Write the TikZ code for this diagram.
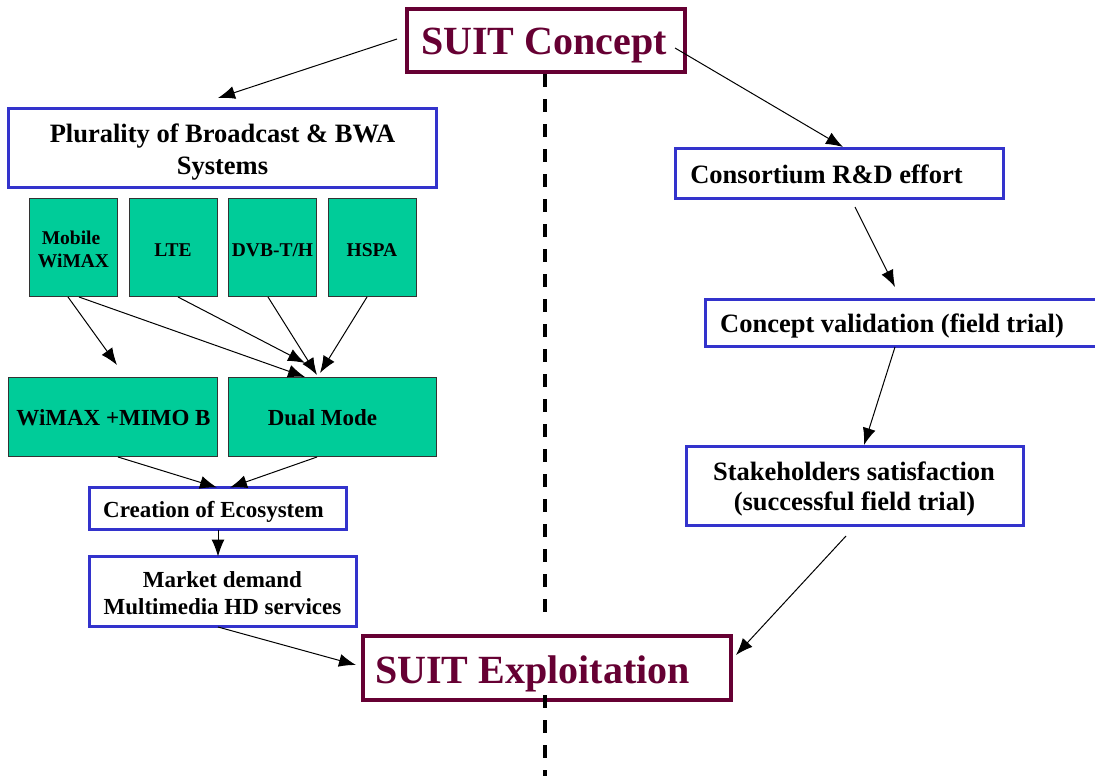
\documentclass[tikz,border=0pt]{standalone}
\usepackage{fontspec}
\setmainfont{Liberation Serif}
\usetikzlibrary{arrows.meta,calc}
\definecolor{maroon}{HTML}{660033}
\definecolor{boxblue}{HTML}{3333CC}
\definecolor{sysgreen}{HTML}{00CC99}
\definecolor{edgegray}{HTML}{333333}
\tikzset{
  mainbox/.style={draw=maroon,line width=4pt,fill=white,inner sep=0pt,outer sep=0pt},
  bluebox/.style={draw=boxblue,line width=3pt,fill=white,inner sep=0pt,outer sep=0pt},
  greenbox/.style={draw=edgegray,line width=1pt,fill=sysgreen,inner sep=0pt,outer sep=0pt},
  txt/.style={inner sep=0pt,outer sep=0pt,anchor=base,font=\bfseries},
  arr/.style={line width=1pt,-{Latex[length=17pt,width=13pt]}},
  divider/.style={line width=4pt,dash pattern=on 13pt off 12pt},
}
\newcommand{\fsz}[2]{\fontsize{#1}{#2}\selectfont}
\begin{document}
\begin{tikzpicture}[x=1pt,y=-1pt]
\useasboundingbox (0,0) rectangle (1095,776);
\clip (0,0) rectangle (1095,776);
\fill[white] (0,0) rectangle (1095,776);

% dashed divider
\coordinate (dtop) at (545,74);
\coordinate (dmid) at (545,612);
\coordinate (dlow) at (545,695);
\coordinate (dend) at (545,776);
\draw[divider] (dtop) -- (dmid);

% main boxes
\node[mainbox,minimum width=278pt,minimum height=63pt] (concept) at (546,40.5) {};
\node[txt,text=maroon,font=\bfseries\fsz{40}{46}] (conceptT) at (544,55) {SUIT Concept};

\node[mainbox,minimum width=368pt,minimum height=64pt] (exploit) at (547,668) {};
\node[txt,text=maroon,font=\bfseries\fsz{40}{46}] (exploitT) at (532.5,683) {SUIT Exploitation};
\draw[divider] (dlow) -- (dend);

% left column
\node[bluebox,minimum width=428pt,minimum height=79pt] (plural) at (222.5,148) {};
\node[txt,font=\bfseries\fsz{26.5}{32}] (pluralA) at (222.5,142) {Plurality of Broadcast \& BWA};
\node[txt,font=\bfseries\fsz{26.5}{32}] (pluralB) at (222.5,174) {Systems};

\node[greenbox,minimum width=88pt,minimum height=98pt] (mobile) at (73.5,247.5) {};
\node[greenbox,minimum width=88pt,minimum height=98pt] (lte) at (173,247.5) {};
\node[greenbox,minimum width=88pt,minimum height=98pt] (dvb) at (272.5,247.5) {};
\node[greenbox,minimum width=88pt,minimum height=98pt] (hspa) at (372,247.5) {};
\node[txt,font=\bfseries\fsz{19.5}{23}] (mobileA) at (71,244) {Mobile};
\node[txt,font=\bfseries\fsz{19.5}{23}] (mobileB) at (73.5,267) {WiMAX};
\node[txt,font=\bfseries\fsz{19.5}{23}] (lteT) at (173,256) {LTE};
\node[txt,font=\bfseries\fsz{19.5}{23}] (dvbT) at (272.5,256) {DVB-T/H};
\node[txt,font=\bfseries\fsz{19.5}{23}] (hspaT) at (372,256) {HSPA};

\node[greenbox,minimum width=209pt,minimum height=79pt] (mimo) at (113,417) {};
\node[greenbox,minimum width=208pt,minimum height=79pt] (dual) at (332.5,417) {};
\node[txt,font=\bfseries\fsz{23}{26}] (mimoT) at (113.5,425) {WiMAX +MIMO B};
\node[txt,font=\bfseries\fsz{23}{26}] (dualT) at (322.5,425) {Dual Mode};

\node[bluebox,minimum width=257pt,minimum height=42pt] (creation) at (218,508.5) {};
\node[txt,font=\bfseries\fsz{23}{26}] (creationT) at (213.5,517) {Creation of Ecosystem};

\node[bluebox,minimum width=267pt,minimum height=70pt] (market) at (223,591.5) {};
\node[txt,font=\bfseries\fsz{23}{26}] (marketA) at (222.5,587) {Market demand};
\node[txt,font=\bfseries\fsz{23}{26}] (marketB) at (222.5,614) {Multimedia HD services};

% right column
\node[bluebox,minimum width=328pt,minimum height=50pt] (consort) at (839.5,173.5) {};
\node[txt,font=\bfseries\fsz{26.5}{30}] (consortT) at (826.5,183) {Consortium R\&D effort};

\node[bluebox,minimum width=403pt,minimum height=47pt] (valid) at (907,323) {};
\node[txt,font=\bfseries\fsz{26.5}{30}] (validT) at (892,332) {Concept validation (field trial)};

\node[bluebox,minimum width=337pt,minimum height=79pt] (stake) at (855,486) {};
\node[txt,font=\bfseries\fsz{26.5}{30}] (stakeA) at (854,480) {Stakeholders satisfaction};
\node[txt,font=\bfseries\fsz{26.5}{30}] (stakeB) at (854.5,510) {(successful field trial)};

% connectors
\draw[arr] ($(concept.west)+(-10,-1.5)$) -- ($(plural.north)+(-4.5,-10.5)$);
\draw[arr] ($(concept.east)+(-10,7.5)$) -- ($(consort.north)+(3.5,-1.5)$);
\draw[arr] ($(consort.south)+(15.5,8.5)$) -- ($(valid.north)+(-12,-12.5)$);
\draw[arr] ($(valid.south)+(-12,0.5)$) -- ($(stake.north)+(9,-1.5)$);
\draw[arr] ($(stake.south)+(-9,10.5)$) -- ($(exploit.east)+(5,-13)$);
\draw[arr] ($(market.south)+(-5,0.5)$) -- ($(exploit.west)+(-7,-3)$);
\draw[arr] (creation.south) -- (creation.south |- market.north);
\draw[arr] ($(mimo.south)+(5,0.5)$) -- ($(creation.north)+(-1,0)$);
\draw[arr] ($(dual.south)+(-15.5,0.5)$) -- ($(creation.north)+(12,0)$);
\draw[arr] ($(mobile.south)+(-5.5,0.5)$) -- ($(mimo.north)+(4,-12.5)$);
\draw[arr] ($(mobile.south)+(5.5,0.5)$) -- ($(dual.north)+(-27.5,-0.5)$);
\draw[arr] ($(lte.south)+(5,0.5)$) -- ($(dual.north)+(-27.5,-14.5)$);
\draw[arr] ($(dvb.south)+(-4.5,0.5)$) -- ($(dual.north)+(-15.5,-2.5)$);
\draw[arr] ($(hspa.south)+(-5,0.5)$) -- ($(dual.north)+(-12.5,-4.5)$);
\end{tikzpicture}
\end{document}
